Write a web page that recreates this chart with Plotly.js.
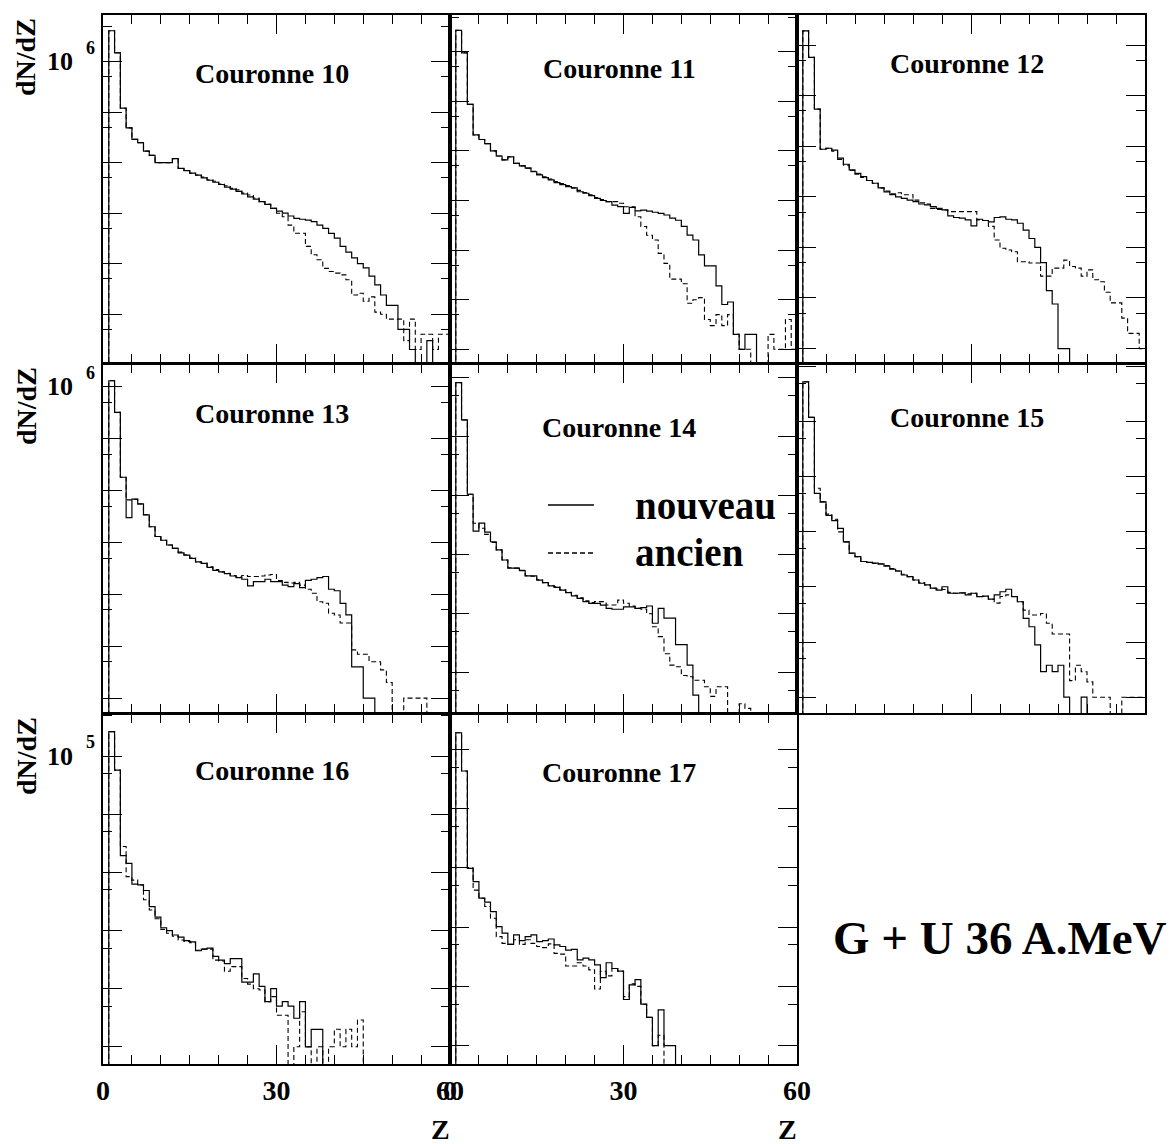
<!DOCTYPE html>
<html><head><meta charset="utf-8">
<script src="https://cdn.plot.ly/plotly-3.0.1.min.js"></script>
<style>html,body{margin:0;padding:0;background:#fff}</style>
</head><body><div id="chart" style="width:1174px;height:1144px"></div>
<script>
// Z bins: 0..59 (bin i covers [i, i+1])
const NBINS = 60;
const c10_nouveau = [0,4.1e6,1.5e6,1.2e5,4.9e4,2.9e4,2.5e4,1.7e4,1.4e4,1.0e4,
 1.0e4,1.0e4,1.2e4,7.7e3,7.0e3,6.2e3,5.7e3,5.0e3,4.5e3,4.1e3,
 3.7e3,3.3e3,3.0e3,2.7e3,2.4e3,2.1e3,1.9e3,1.7e3,1.5e3,1.25e3,
 1.1e3,1.0e3,880,790,760,730,680,580,500,400,
 320,220,170,130,100,83,57,38,24,15,
 15,5,5,2,0,0,3,0,0,0];
const c10_ancien = [0,4.1e6,1.5e6,1.2e5,4.9e4,2.9e4,2.5e4,1.7e4,1.4e4,1.0e4,
 1.0e4,1.0e4,1.2e4,7.7e3,7.0e3,6.2e3,5.7e3,5.2e3,4.6e3,4.3e3,
 3.8e3,3.5e3,3.1e3,2.9e3,2.5e3,2.3e3,2.0e3,1.7e3,1.5e3,1.25e3,
 1.0e3,850,580,400,400,220,150,120,81,70,
 65,60,48,24,26,18,22,11,10,8,
 8,8,3,8,2,4,4,2,4,4];
const c11_nouveau = [0,2.7e6,9.5e5,8.7e4,2.1e4,1.7e4,1.4e4,1.0e4,7.9e3,6.6e3,
 7.6e3,5.6e3,5.0e3,4.5e3,3.8e3,3.3e3,2.9e3,2.6e3,2.3e3,2.1e3,
 1.9e3,1.8e3,1.5e3,1.4e3,1.25e3,1.1e3,1.0e3,950,810,750,
 550,730,620,640,610,580,550,510,440,400,
 300,200,160,80,48,48,19,8,9,2,
 1,2,2,0,0,0,0,0,0,0];
const c11_ancien = [0,2.7e6,9.5e5,8.7e4,2.1e4,1.7e4,1.4e4,1.0e4,7.9e3,6.6e3,
 7.6e3,5.6e3,5.0e3,4.5e3,3.9e3,3.4e3,3.0e3,2.7e3,2.4e3,2.2e3,
 2.0e3,1.8e3,1.6e3,1.45e3,1.3e3,1.15e3,1.05e3,950,950,880,
 750,750,470,300,200,160,86,54,26,26,
 21,8.5,10,11,4,3,5,3,5,2,
 1,1,0,0,0,2,1,1,4,1];
const c12_nouveau = [0,1.9e6,5.7e5,5.4e4,8.7e3,9.1e3,8.4e3,5.8e3,4.4e3,3.4e3,
 2.9e3,2.5e3,2.1e3,1.85e3,1.5e3,1.25e3,1.1e3,1.0e3,930,860,
 800,720,690,640,590,550,420,390,380,350,
 265,360,340,320,390,400,360,350,300,220,
 150,100,50,14,7.6,1,1,0,0,0,
 0,0,0,0,0,0,0,0,0,0];
const c12_ancien = [0,1.9e6,5.7e5,5.4e4,8.7e3,9.1e3,8.0e3,5.5e3,4.2e3,3.3e3,
 2.8e3,2.4e3,2.1e3,1.85e3,1.5e3,1.3e3,1.15e3,1.2e3,1.1e3,1.1e3,
 860,760,720,590,560,550,510,510,510,510,
 510,350,340,260,140,96,89,82,52,52,
 49,49,27,27,39,39,56,42,39,27,
 36,23,21,13,8,8,4,2,2,1];
const c13_nouveau = [0,1.3e6,3.2e5,1.8e4,3.0e3,6.8e3,5.5e3,3.4e3,2.0e3,1.3e3,
 1.1e3,890,770,630,570,490,420,395,330,290,
 270,250,225,210,195,145,175,175,195,175,
 175,150,140,160,135,185,195,210,220,125,
 117,67,40,4,4,1,1,0,0,0,
 0,0,0,0,0,0,0,0,0,0];
const c13_ancien = [0,1.3e6,3.2e5,1.8e4,6.6e3,6.8e3,5.5e3,3.4e3,2.0e3,1.3e3,
 1.1e3,890,770,650,570,500,420,395,340,300,
 270,255,230,215,230,220,220,225,235,240,
 185,170,165,170,150,125,105,72,67,43,
 40,28,28,8.5,7,7,5,5,3.5,2,
 0,0,1,1,1,1,0,0,0,0];
const c14_nouveau = [0,8.1e5,1.9e5,1.05e4,2.5e3,3.4e3,2.4e3,1.65e3,1.2e3,810,
 590,590,535,435,435,370,335,295,280,250,
 227,200,182,160,150,150,140,123,119,119,
 131,131,123,127,135,69,123,84,84,30,
 30,13.5,4.2,0,0,0,0,0,0,0,
 0,0,0,0,0,0,0,0,0,0];
const c14_ancien = [0,8.1e5,1.9e5,1.05e4,3.4e3,2.8e3,2.2e3,1.6e3,1.2e3,810,
 600,590,540,440,430,375,335,300,285,255,
 230,205,185,165,155,160,160,140,140,170,
 150,135,123,119,100,60,41,21,13.5,12.7,
 9,8.6,7.5,7.5,5.8,4,5.8,5.8,0,0,
 3,2.5,0,0,0,0,0,0,0,0];
const c15_nouveau = [0,5.3e5,1.2e5,5.0e3,3.5e3,2.0e3,1.6e3,1.16e3,660,410,
 355,290,280,270,262,240,210,195,165,154,
 134,117,109,95,88,101,77,77,78,72,
 77,67,68,60,72,82,91,67,54,27,
 19,8.9,2.9,3.8,2.9,3.8,1,0,0,1,
 0,0,0,0,0,0,0,0,0,0];
const c15_ancien = [0,5.3e5,1.2e5,6.2e3,3.5e3,2.1e3,1.7e3,1.0e3,660,410,
 355,290,280,270,262,245,215,195,170,154,
 134,120,109,95,92,90,80,77,78,75,
 77,67,68,60,51,67,72,67,54,38,
 31,31,33,22,14,14,14,2,3.8,2.9,
 1.9,1,1,1,0,0,1,1,1,1];
const c16_nouveau = [0,2.65e5,5.8e4,1.95e3,1.44e3,630,610,490,258,170,
 112,100,84,77,67,64,45,48,50,36,
 31,27,33,33,13,13,18,11,6,10,
 5,6,5,3.1,6,1,2,2,0,0,
 0,0,0,0,0,0,0,0,0,0,
 0,0,0,0,0,0,0,0,0,0];
const c16_ancien = [0,2.65e5,5.8e4,2.8e3,850,740,610,340,226,160,
 105,90,80,69,65,62,46,48,48,31,
 30,20,24,24,15,12,10,9.5,6,7.3,
 3.5,3.5,0,1,4,1,0,1,0,1,
 2,1,2,1,2.9,0,0,0,0,0,
 0,0,0,0,0,0,0,0,0,0];
const c17_nouveau = [0,1.9e5,4.3e4,980,585,307,263,182,102,79,
 51,74,59,69,74,57,59,63,50,47,
 41,42,28,30,28,23,14,25,20,18,
 6,10.6,13,5,3,1,4,1,1,0,
 0,0,0,0,0,0,0,0,0,0,
 0,0,0,0,0,0,0,0,0,0];
const c17_ancien = [0,1.9e5,4.3e4,1.0e3,420,307,222,141,69,53,
 51,61,51,61,53,47,45,52,36,35,
 22,22,25,22,19,9,18,15,20,18,
 6.7,11,10,5,3,1,1.5,0,0,0,
 0,0,0,0,0,0,0,0,0,0,
 0,0,0,0,0,0,0,0,0,0];

const panelTitles = ['Couronne 10','Couronne 11','Couronne 12','Couronne 13','Couronne 14','Couronne 15','Couronne 16','Couronne 17'];
const seriesNames = ['nouveau','ancien'];
const xTickVals = [0,30,60];
const xTickText = ['0','30','60'];
const yMajor = [1e-1,1,10,100,1e3,1e4,1e5,1e6,1e7];
const yMinor = [5e-2,0.5,5,50,500,5e3,5e4,5e5,5e6];

// ---- layout (pixel boxes) ----
const W = 1174, H = 1144;
const colPx = [[103,450],[450,797],[797,1145]];
const rowPx = [[15,363],[364,713],[714,1064]];
const panels = [
  {n:c10_nouveau,a:c10_ancien,col:0,row:0,yr:[0.034,6.925],lab:6,tx:272,ty:73},
  {n:c11_nouveau,a:c11_ancien,col:1,row:0,yr:[-0.276,6.74],tx:619,ty:68},
  {n:c12_nouveau,a:c12_ancien,col:2,row:0,yr:[-0.285,6.593],tx:967,ty:63},
  {n:c13_nouveau,a:c13_ancien,col:0,row:1,yr:[-0.287,6.437],lab:6,tx:272,ty:413},
  {n:c14_nouveau,a:c14_ancien,col:1,row:1,yr:[0.32,6.225],tx:619,ty:427},
  {n:c15_nouveau,a:c15_ancien,col:2,row:1,yr:[-0.287,6.047],tx:967,ty:417},
  {n:c16_nouveau,a:c16_ancien,col:0,row:2,yr:[-0.296,5.728],lab:5,tx:272,ty:770,xl:true},
  {n:c17_nouveau,a:c17_ancien,col:1,row:2,yr:[-0.31,5.595],tx:619,ty:772,xl:true}
];
const FONT = 'Liberation Serif, Times New Roman, serif';
const px = v => v / W;
const py = v => 1 - v / H;

const edges = Array.from({length: NBINS + 1}, (_, i) => i);
const FLOOR = 1e-3; // empty bins drawn below the axis floor
function stepY(vals){ const y = vals.map(v => v > 0 ? v : FLOOR); y.push(y[y.length-1]); return y; }

const data = [];
const layout = {
  width: W, height: H, margin:{l:0,r:0,t:0,b:0},
  paper_bgcolor:'#fff', plot_bgcolor:'#fff', showlegend:false,
  font:{family:FONT, color:'#000'},
  annotations:[], shapes:[]
};
const DASH = '5px,3px';

panels.forEach((p, i) => {
  const k = i === 0 ? '' : String(i+1);
  const xa = 'x'+k, ya = 'y'+k;
  data.push({type:'scatter', mode:'lines', x:edges, y:stepY(p.n), xaxis:xa, yaxis:ya,
    name:seriesNames[0], line:{shape:'hv', color:'#000', width:1.2}, hoverinfo:'skip'});
  data.push({type:'scatter', mode:'lines', x:edges, y:stepY(p.a), xaxis:xa, yaxis:ya,
    name:seriesNames[1], line:{shape:'hv', color:'#000', width:1.1, dash:DASH}, hoverinfo:'skip'});
  const c = colPx[p.col], r = rowPx[p.row];
  layout['xaxis'+k] = {
    domain:[px(c[0]), px(c[1])], anchor:ya, range:[0,60],
    showline:true, linecolor:'#000', linewidth:2, mirror:'ticks',
    ticks:'inside', ticklen:19, tickwidth:1, tickcolor:'#000',
    tickmode:'array', tickvals:xTickVals, ticktext:xTickText,
    showticklabels:!!p.xl, tickfont:{family:FONT, size:28, weight:'bold', color:'#000'},
    minor:{ticks:'inside', ticklen:9, tickwidth:1, tickcolor:'#000', tickmode:'linear', tick0:0, dtick:5},
    showgrid:false, zeroline:false, fixedrange:true
  };
  layout['yaxis'+k] = {
    domain:[py(r[1]), py(r[0])], anchor:xa, type:'log', range:p.yr,
    showline:true, linecolor:'#000', linewidth:2, mirror:'ticks',
    ticks:'inside', ticklen:19, tickwidth:1, tickcolor:'#000',
    tickmode:'array', tickvals:yMajor, showticklabels:false,
    minor:{ticks:'inside', ticklen:9, tickwidth:1, tickcolor:'#000', tickmode:'array', tickvals:yMinor},
    showgrid:false, zeroline:false, fixedrange:true
  };
  layout.annotations.push({text:panelTitles[i], xref:'paper', yref:'paper', x:px(p.tx), y:py(p.ty),
    xanchor:'center', yanchor:'middle', showarrow:false, font:{family:FONT, size:28, weight:'bold'}});
  if (p.lab !== undefined) {
    layout.annotations.push({text:'10', xref:'paper', yref:ya, x:px(59.5), y:p.lab,
      xanchor:'center', yanchor:'middle', showarrow:false, font:{family:FONT, size:26, weight:'bold'}});
    layout.annotations.push({text:String(p.lab), xref:'paper', yref:ya, x:px(90), y:p.lab, yshift:14,
      xanchor:'center', yanchor:'middle', showarrow:false, font:{family:FONT, size:18, weight:'bold'}});
    layout.annotations.push({text:'dN/dZ', xref:'paper', yref:'paper', x:px(26), y:py(r[0]+42),
      xanchor:'center', yanchor:'middle', textangle:-90, showarrow:false, font:{family:FONT, size:28, weight:'bold'}});
  }
  if (p.xl) {
    layout.annotations.push({text:'Z', xref:'paper', yref:'paper', x:px(c[1]-10), y:py(1129),
      xanchor:'center', yanchor:'middle', showarrow:false, font:{family:FONT, size:28, weight:'bold'}});
  }
});

// legend inside Couronne 14
layout.shapes.push({type:'line', xref:'paper', yref:'paper', x0:px(548), x1:px(594), y0:py(505), y1:py(505), line:{color:'#000', width:1.5}});
layout.shapes.push({type:'line', xref:'paper', yref:'paper', x0:px(548), x1:px(594), y0:py(553), y1:py(553), line:{color:'#000', width:1.5, dash:DASH}});
layout.annotations.push({text:seriesNames[0], xref:'paper', yref:'paper', x:px(633), y:py(505), xanchor:'left', yanchor:'middle', showarrow:false, font:{family:FONT, size:39, weight:'bold'}});
layout.annotations.push({text:seriesNames[1], xref:'paper', yref:'paper', x:px(633), y:py(553), xanchor:'left', yanchor:'middle', showarrow:false, font:{family:FONT, size:39, weight:'bold'}});
layout.annotations.push({text:'G + U 36 A.MeV', xref:'paper', yref:'paper', x:px(1000), y:py(938), xanchor:'center', yanchor:'middle', showarrow:false, font:{family:FONT, size:47, weight:'bold'}});

Plotly.newPlot('chart', data, layout, {staticPlot:true, displayModeBar:false});
</script>
</body></html>
